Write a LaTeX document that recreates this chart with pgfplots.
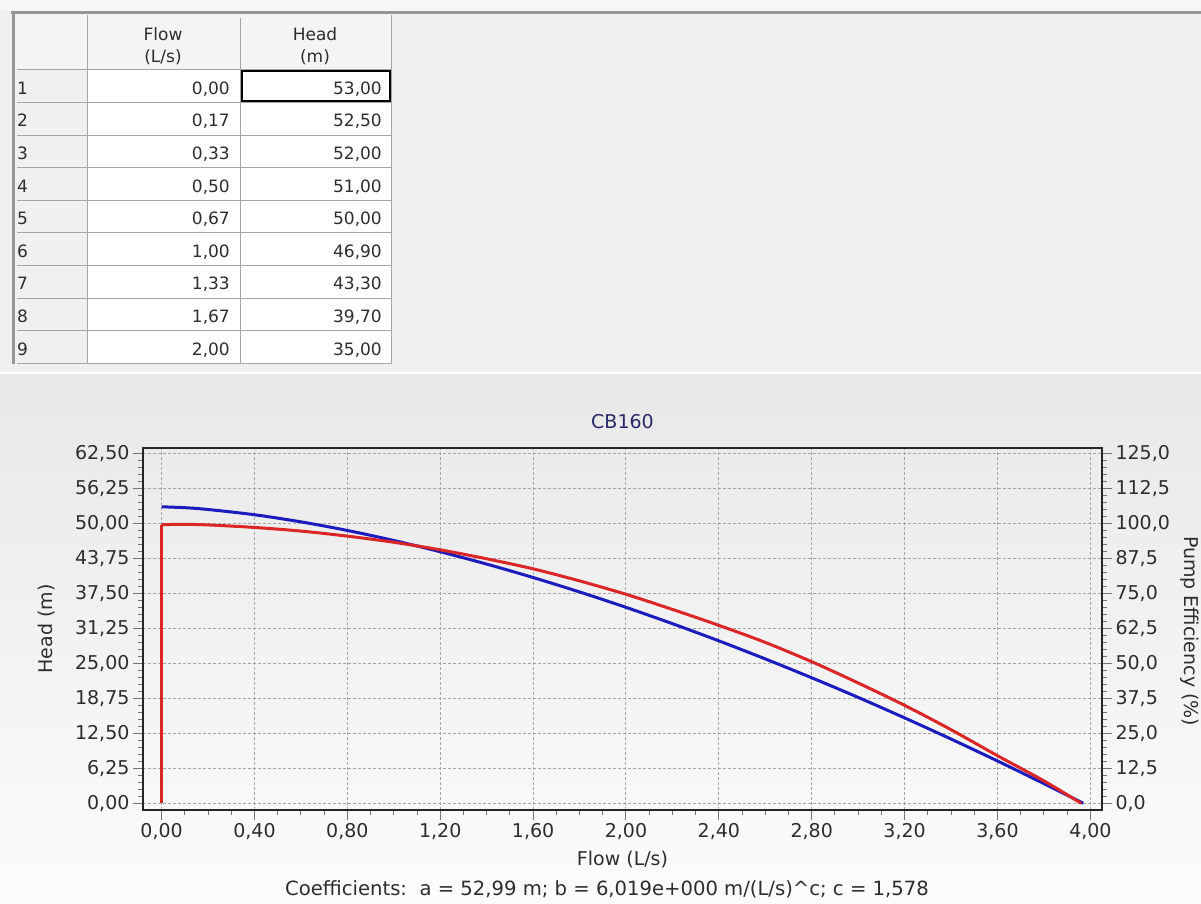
\documentclass[border=0pt]{standalone}
\usepackage{fontspec}
\setmainfont{DejaVu Sans}
\usepackage{pgfplots}
\pgfplotsset{compat=1.18}
\definecolor{panel}{RGB}{240,240,240}
\definecolor{topstrip}{RGB}{246,246,246}
\definecolor{headerbg}{RGB}{244,244,244}
\definecolor{gridc}{RGB}{165,165,165}
\definecolor{txt}{RGB}{45,45,45}
\definecolor{headblue}{RGB}{28,28,190}
\definecolor{effred}{RGB}{218,38,38}
\definecolor{titleblue}{RGB}{40,40,105}
\definecolor{cellline}{RGB}{165,165,165}
\definecolor{border}{RGB}{150,150,150}
\definecolor{gradtop}{RGB}{232,232,232}
\definecolor{gradbot}{RGB}{252,252,252}
\newcommand{\fs}{\fontsize{19}{23}\selectfont}
\newcommand{\fc}{\fontsize{19.6}{23}\selectfont}
\newcommand{\ft}{\fontsize{17}{20}\selectfont}
\begin{document}
\begin{tikzpicture}[x=1pt,y=1pt]
\useasboundingbox (0,0) rectangle (1201,904);
\clip (0,0) rectangle (1201,904);
% backgrounds
\fill[panel] (0,532) rectangle (1201,904);
\fill[white] (0,529) rectangle (1201,532);
\shade[top color=gradtop, bottom color=gradbot] (0,0) rectangle (1201,529);
% table
\begin{scope}[x=1pt,y=-1pt,yshift=904pt]
\fill[topstrip] (0,0) rectangle (1201,11);
\fill[headerbg] (14.5,14.5) rectangle (391,70);
\fill[white] (87,70) rectangle (391,364);
\foreach \i in {0,...,9} {\draw[cellline, line width=1pt] (17,70+32.6*\i) -- (391,70+32.6*\i);}
\draw[cellline, line width=1pt] (87,15) -- (87,364);
\draw[cellline, line width=1pt] (240,18) -- (240,364);
\draw[cellline, line width=1pt] (391,15) -- (391,364);
\draw[border, line width=3pt] (11,13) -- (1201,13);
\draw[border, line width=3pt] (13,12) -- (13,364);
\draw[black, line width=2pt] (241.5,71.5) rectangle (389.5,101.5);
\node[font=\ft, color=txt, anchor=base] at (163,40.5) {Flow};
\node[font=\ft, color=txt, anchor=base] at (163,63) {(L/s)};
\node[font=\ft, color=txt, anchor=base] at (315,40.5) {Head};
\node[font=\ft, color=txt, anchor=base] at (315,63) {(m)};
\foreach \n/\f/\h [count=\k from 0] in {1/0{,}00/53{,}00, 2/0{,}17/52{,}50, 3/0{,}33/52{,}00, 4/0{,}50/51{,}00, 5/0{,}67/50{,}00, 6/1{,}00/46{,}90, 7/1{,}33/43{,}30, 8/1{,}67/39{,}70, 9/2{,}00/35{,}00} {
  \node[font=\ft, color=txt, anchor=base west, inner sep=0pt] at (17,94.3+32.6*\k) {\n};
  \node[font=\ft, color=txt, anchor=base east, inner sep=0pt] at (230,94.3+32.6*\k) {\f};
  \node[font=\ft, color=txt, anchor=base east, inner sep=0pt] at (382,94.3+32.6*\k) {\h};
}
\node[font=\fc, color=txt] at (607,889) {Coefficients:\ \ a = 52,99 m; b = 6,019e+000 m/(L/s)\textasciicircum c; c = 1,578};
\end{scope}
% head axis
\begin{axis}[
  at={(143pt,94pt)}, anchor=south west, scale only axis, width=959pt, height=362pt,
  xmin=-0.08, xmax=4.05, ymin=-1.2, ymax=63.5,
  xtick={0,0.4,0.8,1.2,1.6,2,2.4,2.8,3.2,3.6,4},
  ytick={0,6.25,12.5,18.75,25,31.25,37.5,43.75,50,56.25,62.5},
  minor x tick num=3, minor y tick num=4,
  tick align=outside, tick pos=left,
  major tick length=10pt, minor tick length=5pt,
  tick style={line width=1pt, color=black!55},
  grid=major,
  major grid style={color=gridc, dash pattern=on 3pt off 2pt, line width=1pt},
  axis line style={line width=2.5pt, color=black!85},
  /pgf/number format/assume math mode=true,
  tick label style={font=\fs, color=txt},
  x tick label style={/pgf/number format/.cd, fixed, fixed zerofill, precision=2, use comma},
  y tick label style={/pgf/number format/.cd, fixed, fixed zerofill, precision=2, use comma},
  title={CB160},
  title style={font=\fs, color=titleblue, at={(axis description cs:0.5,1.057)}, anchor=center},
  xlabel={Flow (L/s)},
  xlabel style={font=\fs, color=txt, at={(axis description cs:0.5,-0.138)}, anchor=center},
  ylabel={Head (m)},
  ylabel style={font=\fs, color=txt, at={(axis description cs:-0.101,0.5)}, anchor=center},
]
\addplot[headblue, line width=3pt, smooth] coordinates {
(0,52.99) (0.1,52.83) (0.2,52.51) (0.4,51.57) (0.6,50.30) (0.8,48.76) (1.0,46.97)
(1.2,44.96) (1.4,42.75) (1.6,40.35) (1.8,37.77) (2.0,35.02) (2.2,32.10) (2.4,29.03)
(2.6,25.80) (2.8,22.43) (3.0,18.92) (3.2,15.26) (3.4,11.48) (3.6,7.56) (3.8,3.51) (3.969,0)
};
\end{axis}
% efficiency axis
\begin{axis}[
  at={(143pt,94pt)}, anchor=south west, scale only axis, width=959pt, height=362pt,
  xmin=-0.08, xmax=4.05, ymin=-2.4, ymax=127,
  axis x line=none, axis y line*=right,
  ytick={0,12.5,25,37.5,50,62.5,75,87.5,100,112.5,125},
  minor y tick num=4,
  tick align=outside,
  major tick length=10pt, minor tick length=5pt,
  tick style={line width=1pt, color=black!55},
  axis line style={line width=2.5pt, color=black!85},
  /pgf/number format/assume math mode=true,
  tick label style={font=\fs, color=txt},
  y tick label style={/pgf/number format/.cd, fixed, fixed zerofill, precision=1, use comma},
  ylabel={Pump Efficiency (\%)},
  ylabel style={font=\fs, color=txt, at={(axis description cs:1.0915,0.494)}, anchor=center, rotate=180, inner sep=0pt},
]
\addplot[effred, line width=3pt] coordinates {(0,0) (0,99.6)};
\addplot[effred, line width=3pt, smooth] coordinates {
(0,99.6) (0.1,99.7) (0.2,99.5) (0.4,98.6) (0.6,97.3) (0.8,95.5) (1.0,93.3) (1.2,90.6)
(1.4,87.4) (1.6,83.8) (1.8,79.5) (2.0,74.7) (2.2,69.3) (2.4,63.6) (2.6,57.5) (2.8,50.6)
(3.0,43.0) (3.2,35.0) (3.4,26.3) (3.6,17.0) (3.8,8.0) (3.96,0)
};
\end{axis}
\end{tikzpicture}
\end{document}
